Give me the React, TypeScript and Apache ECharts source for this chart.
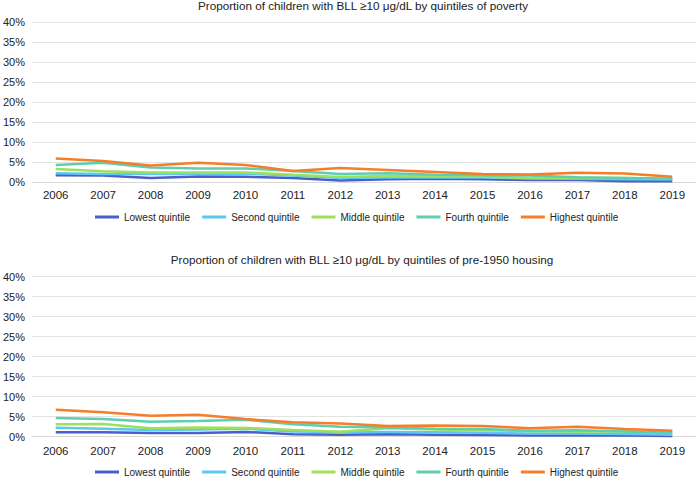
import React, { useEffect, useRef } from "react";
import * as echarts from "echarts";

const years = ["2006","2007","2008","2009","2010","2011","2012","2013","2014","2015","2016","2017","2018","2019"];
const seriesNames = ["Lowest quintile","Second quintile","Middle quintile","Fourth quintile","Highest quintile"];
const colors = ["#4a5fc9","#5ac8f2","#9fe05a","#5dcfae","#f67d2a"];

const yTicks = [0, 5, 10, 15, 20, 25, 30, 35, 40];

// Chart 1: by quintiles of poverty (%)
const povLowest  = [1.7, 1.6, 1.0, 1.4, 1.3, 1.0, 0.4, 0.7, 0.8, 0.7, 0.5, 0.5, 0.2, 0.2];
const povSecond  = [2.2, 2.0, 2.0, 2.0, 2.1, 1.6, 1.0, 1.2, 1.1, 1.1, 0.9, 0.8, 0.7, 0.6];
const povMiddle  = [3.25, 2.7, 2.4, 2.4, 2.4, 1.8, 1.25, 1.5, 1.4, 1.3, 1.0, 1.0, 1.0, 0.8];
const povFourth  = [4.25, 4.8, 3.6, 3.4, 3.4, 2.75, 2.0, 2.2, 1.8, 1.7, 1.6, 1.2, 1.0, 0.8];
const povHighest = [5.9, 5.25, 4.1, 4.8, 4.25, 2.75, 3.5, 3.0, 2.5, 2.0, 1.9, 2.3, 2.1, 1.3];

// Chart 2: by quintiles of pre-1950 housing (%)
const houLowest  = [1.1, 1.1, 0.9, 0.9, 1.2, 0.6, 0.5, 0.6, 0.5, 0.4, 0.3, 0.3, 0.3, 0.2];
const houSecond  = [2.25, 2.0, 1.7, 1.8, 2.0, 1.3, 1.2, 1.2, 1.1, 1.0, 0.8, 0.8, 0.7, 0.5];
const houMiddle  = [3.1, 3.2, 2.1, 2.3, 2.2, 1.7, 1.25, 2.1, 1.8, 1.6, 1.4, 1.3, 1.3, 0.9];
const houFourth  = [4.7, 4.4, 3.75, 3.9, 4.25, 3.1, 2.5, 2.3, 2.0, 1.9, 1.5, 1.6, 1.3, 1.0];
const houHighest = [6.75, 6.1, 5.25, 5.5, 4.4, 3.6, 3.3, 2.7, 2.8, 2.7, 2.1, 2.5, 1.9, 1.5];

const title1 = "Proportion of children with BLL \u226510 \u03bcg/dL by quintiles of poverty";
const title2 = "Proportion of children with BLL \u226510 \u03bcg/dL by quintiles of pre-1950 housing";

const FONT = "'Liberation Sans', Arial, Helvetica, sans-serif";

export default function App() {
  const ref = useRef<HTMLDivElement>(null);
  useEffect(() => {
    if (!ref.current) return;
    const chart = echarts.init(ref.current, null, { renderer: "svg" });
    const povData = [povLowest, povSecond, povMiddle, povFourth, povHighest];
    const houData = [houLowest, houSecond, houMiddle, houFourth, houHighest];
    const mkSeries = (data: number[][], idx: number) =>
      data.map((d, i) => ({
        name: seriesNames[i],
        type: "line" as const,
        xAxisIndex: idx,
        yAxisIndex: idx,
        data: d,
        symbol: "none",
        lineStyle: { width: 2.5, color: colors[i] },
        itemStyle: { color: colors[i] },
      }));
    const xAxisBase = (gi: number, margin: number) => ({
      type: "category" as const,
      gridIndex: gi,
      data: years,
      boundaryGap: true,
      axisLine: { show: true, lineStyle: { color: "#d9d9d9", width: 1 } },
      axisTick: { show: false },
      axisLabel: { color: "#222", fontSize: 11.5, fontFamily: FONT, margin },
    });
    const yAxisBase = (gi: number) => ({
      type: "value" as const,
      gridIndex: gi,
      min: 0,
      max: 40,
      interval: 5,
      axisLine: { show: false },
      axisTick: { show: false },
      splitLine: { lineStyle: { color: "#e3e3e3", width: 1 } },
      axisLabel: {
        color: "#222",
        fontSize: 11,
        fontFamily: FONT,
        margin: 7,
        formatter: (v: number) => (yTicks.includes(v) ? v + "%" : ""),
      },
    });
    const legendBase = (top: number) => ({
      top,
      left: 95,
      padding: 0,
      itemWidth: 24,
      itemHeight: 3,
      itemGap: 12,
      icon: "rect",
      textStyle: { color: "#222", fontSize: 10, fontFamily: FONT },
      data: seriesNames,
    });
    const titleStyle = { fontSize: 11.7, fontWeight: "normal" as const, color: "#222", fontFamily: FONT };
    chart.setOption({
      animation: false,
      backgroundColor: "#ffffff",
      title: [
        { text: title1, left: 363, top: -1, padding: 0, textAlign: "center", textStyle: titleStyle },
        { text: title2, left: 362, top: 253, padding: 0, textAlign: "center", textStyle: titleStyle },
      ],
      legend: [
        { ...legendBase(212) },
        { ...legendBase(467) },
      ],
      grid: [
        { left: 29, right: 1, top: 22, height: 160 },
        { left: 29, right: 1, top: 276.7, height: 160 },
      ],
      xAxis: [xAxisBase(0, 7), xAxisBase(1, 8)],
      yAxis: [yAxisBase(0), yAxisBase(1)],
      series: [...mkSeries(povData, 0), ...mkSeries(houData, 1)],
    });
    return () => chart.dispose();
  }, []);
  return (
    <div
      ref={ref}
      style={{ position: "fixed", left: 0, top: 0, width: 697, height: 478, background: "#fff" }}
    />
  );
}
